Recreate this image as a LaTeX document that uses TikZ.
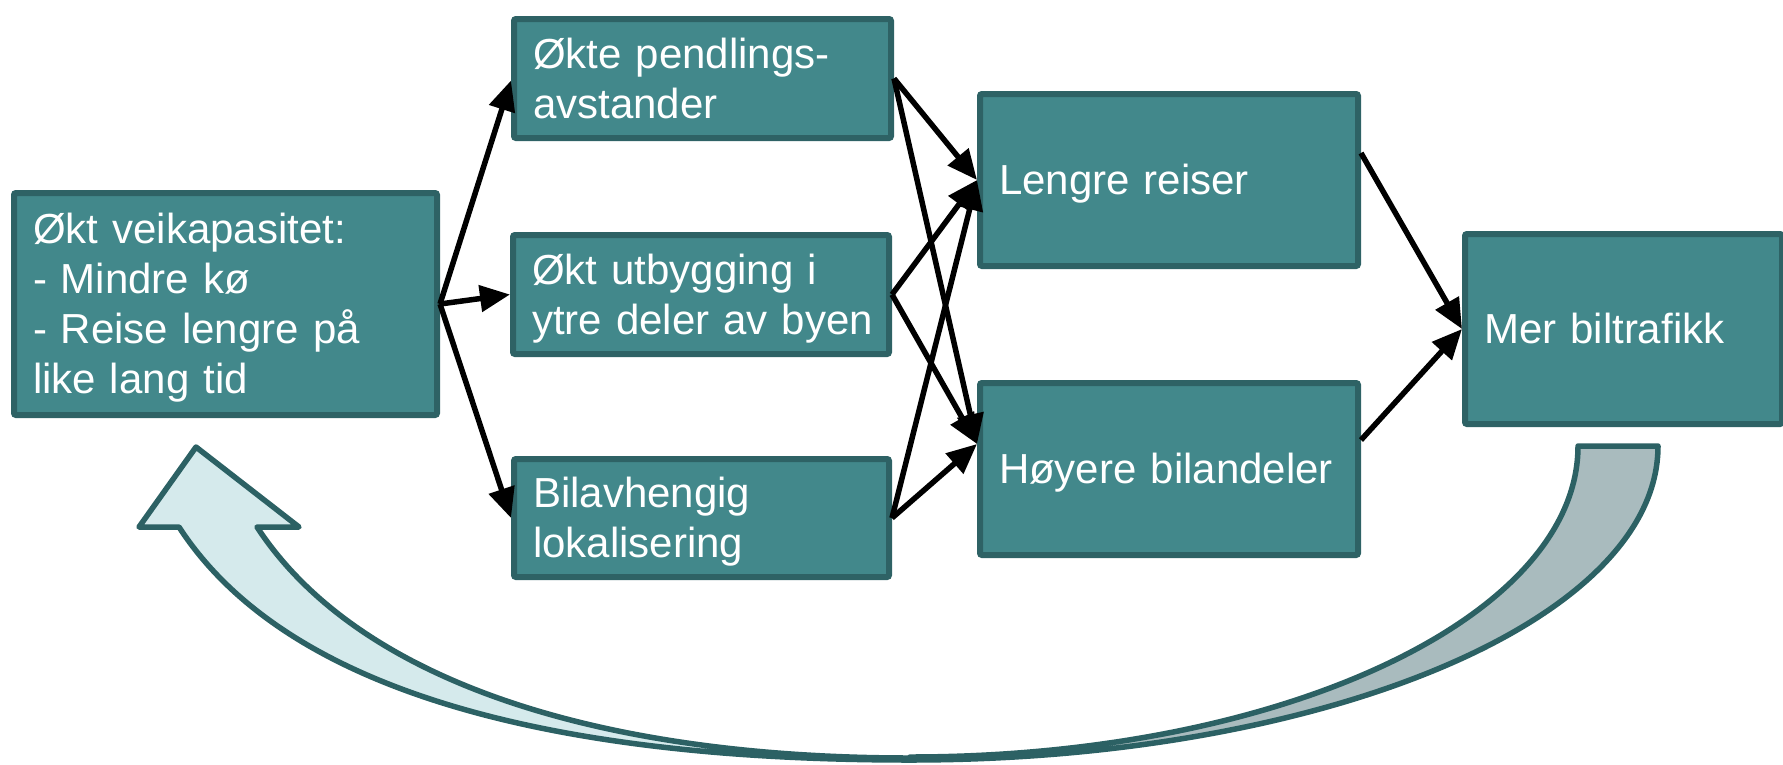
\documentclass[tikz,border=0pt]{standalone}
\usepackage{fontspec}
\setmainfont{Liberation Sans}
\usetikzlibrary{arrows.meta}
\definecolor{boxfill}{RGB}{66,136,139}
\definecolor{boxborder}{RGB}{46,98,101}
\definecolor{bandline}{RGB}{44,97,100}
\definecolor{lightband}{RGB}{213,234,236}
\definecolor{darkband}{RGB}{169,187,190}
\newcommand\ppstrut{\rule[-0.212em]{0pt}{1.117em}}
\begin{document}
\begin{tikzpicture}[x=1pt,y=-1pt,
  box/.style={draw=boxborder, fill=boxfill, line width=6pt, rounded corners=2pt,
    anchor=north west, inner xsep=19pt, inner ysep=0pt, align=left, text=white,
    font=\fontsize{42}{50}\selectfont},
  conn/.style={line width=5.5pt, -{Triangle[length=30pt,width=26pt]}},
  band/.style={draw=bandline, line width=5.5pt, line join=round}]
\useasboundingbox (0,0) rectangle (1783,764);

% curved feedback arrow
\path[band, fill=darkband] (1578,446) .. controls (1578,618.3) and (1278.9,757) .. (910,757)
  -- (910,760) .. controls (1323.1,760) and (1658,620.5) .. (1658,446) -- cycle;
\path[band, fill=lightband] (196,447) -- (299,527) -- (257,527)
  .. controls (361,686) and (610,758) .. (910,758)
  -- (910,760) .. controls (560,760) and (288,695) .. (179,527)
  -- (139,527) -- cycle;

% boxes
\node[box, text width=385pt, minimum height=222pt] (A) at (11,190)
  {\ppstrut Økt veikapasitet:\\\ppstrut - Mindre kø\\\ppstrut\mbox{- Reise lengre på}\\\ppstrut like lang tid};
\node[box, text width=339pt, minimum height=119pt] (B1) at (511,16)
  {\ppstrut\mbox{Økte pendlings-}\\\ppstrut avstander};
\node[box, text width=338pt, minimum height=119pt] (B2) at (510,232)
  {\ppstrut\mbox{Økt utbygging i}\\\ppstrut\mbox{ytre deler av byen}};
\node[box, text width=337pt, minimum height=118pt] (B3) at (511,456)
  {\ppstrut Bilavhengig\\\ppstrut lokalisering};
\node[box, text width=340pt, minimum height=172pt] (C1) at (977,91)
  {\ppstrut Lengre reiser};
\node[box, text width=340pt, minimum height=172pt] (C2) at (977,380)
  {\ppstrut\mbox{Høyere bilandeler}};
\node[box, text width=279pt, minimum height=190pt] (D) at (1462,231)
  {\ppstrut Mer biltrafikk};

\coordinate (c2in) at ([yshift=25pt]C2.west);
\coordinate (c1out) at ([yshift=27pt]C1.east);
\coordinate (c2out) at ([yshift=29pt]C2.east);

% connectors
\draw[conn] (A.east) -- ([yshift=-2pt]B1.west);
\draw[conn] (A.east) -- (B2.west);
\draw[conn] (A.east) -- (B3.west);
\draw[conn] (B1.east) -- (C1.west);
\draw[conn] (B1.east) -- (c2in);
\draw[conn] (B2.east) -- (C1.west);
\draw[conn] (B2.east) -- (c2in);
\draw[conn] (B3.east) -- (C1.west);
\draw[conn] (B3.east) -- (c2in);
\draw[conn] (c1out) -- (D.west);
\draw[conn] (c2out) -- (D.west);
\end{tikzpicture}
\end{document}
